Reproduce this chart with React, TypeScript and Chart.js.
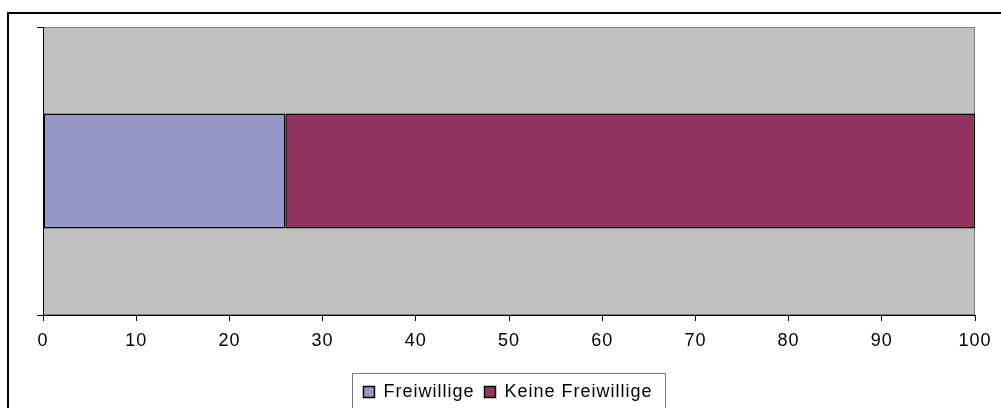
import React, { useEffect, useRef } from "react";
import { Chart, registerables } from "chart.js";

Chart.register(...registerables);

const categories = [""];
const seriesNames = ["Freiwillige", "Keine Freiwillige"];
const freiwillige = [26];
const keineFreiwillige = [74];
const xMin = 0;
const xMax = 100;
const xStep = 10;

const FONT = "'Liberation Sans', Arial, sans-serif";

const spacingPlugin = {
  id: "spacing",
  beforeUpdate(chart: any) {
    chart.ctx.letterSpacing = "1px";
  },
  beforeDraw(chart: any) {
    const ctx = chart.ctx;
    ctx.letterSpacing = "1px";
    const a = chart.chartArea;
    ctx.save();
    ctx.fillStyle = "#C0C0C0";
    ctx.fillRect(a.left, a.top, a.right - a.left, a.bottom - a.top);
    ctx.strokeStyle = "#808080";
    ctx.lineWidth = 1;
    ctx.strokeRect(a.left + 0.5, a.top + 0.5, a.right - a.left - 1, a.bottom - a.top - 1);
    ctx.restore();
  },
  afterDraw(chart: any) {
    const lg = chart.legend;
    if (!lg || !lg.legendHitBoxes || !lg.legendHitBoxes.length) return;
    const hb = lg.legendHitBoxes;
    const first = hb[0];
    const last = hb[hb.length - 1];
    const ctx = chart.ctx;
    ctx.save();
    ctx.strokeStyle = "#777777";
    ctx.lineWidth = 1;
    const left = Math.round(first.left - 11) + 0.5;
    const right = Math.round(last.left + last.width + 12) + 0.5;
    const top = Math.round(first.top - 10) + 0.5;
    const bottom = chart.height + 5;
    ctx.beginPath();
    ctx.moveTo(left, bottom);
    ctx.lineTo(left, top);
    ctx.lineTo(right, top);
    ctx.lineTo(right, bottom);
    ctx.stroke();
    ctx.restore();
  },
};

export default function App() {
  const ref = useRef<HTMLCanvasElement | null>(null);

  useEffect(() => {
    if (!ref.current) return;
    Chart.defaults.font.family = FONT;
    const chart = new Chart(ref.current, {
      type: "bar",
      data: {
        labels: categories,
        datasets: [
          {
            label: seriesNames[0],
            data: freiwillige,
            backgroundColor: "#9696C8",
            borderColor: "#000000",
            borderWidth: 1.5,
            borderSkipped: false,
            barPercentage: 0.4,
            categoryPercentage: 1,
          },
          {
            label: seriesNames[1],
            data: keineFreiwillige,
            backgroundColor: "#93335F",
            borderColor: "#000000",
            borderWidth: 1.5,
            borderSkipped: false,
            barPercentage: 0.4,
            categoryPercentage: 1,
          },
        ],
      },
      options: {
        indexAxis: "y",
        responsive: false,
        animation: false,
        layout: { padding: { left: 41, right: 26, top: 27, bottom: -3 } },
        scales: {
          x: {
            stacked: true,
            min: xMin,
            max: xMax,
            ticks: {
              stepSize: xStep,
              color: "#000",
              font: { size: 18, family: FONT },
              padding: 9,
              maxRotation: 0,
            },
            grid: {
              drawOnChartArea: false,
              drawTicks: true,
              tickLength: 6,
              color: "#000",
            },
            border: { display: true, color: "#000", width: 1 },
            afterFit(scale: any) {
              scale.height = 58;
            },
          },
          y: {
            stacked: true,
            ticks: { display: false },
            grid: {
              offset: true,
              drawOnChartArea: false,
              drawTicks: true,
              tickLength: 6,
              color: "#000",
            },
            border: { display: true, color: "#000", width: 1 },
            afterFit(scale: any) {
              scale.width = 2;
            },
          },
        },
        plugins: {
          legend: {
            display: true,
            position: "bottom",
            labels: {
              boxWidth: 11,
              boxHeight: 11,
              padding: 10,
              color: "#000",
              font: { size: 18, family: FONT },
            },
          },
          tooltip: { enabled: false },
        },
      },
      plugins: [spacingPlugin],
    } as any);
    return () => chart.destroy();
  }, []);

  return (
    <div
      style={{
        position: "fixed",
        left: 0,
        top: 0,
        width: 1001,
        height: 408,
        overflow: "hidden",
        background: "#fff",
      }}
    >
      <canvas ref={ref} width={1001} height={408} style={{ display: "block" }} />
      <div
        style={{
          position: "absolute",
          left: 7,
          top: 12,
          width: 2000,
          height: 2000,
          borderLeft: "2px solid #000",
          borderTop: "2px solid #000",
          pointerEvents: "none",
        }}
      />
    </div>
  );
}
